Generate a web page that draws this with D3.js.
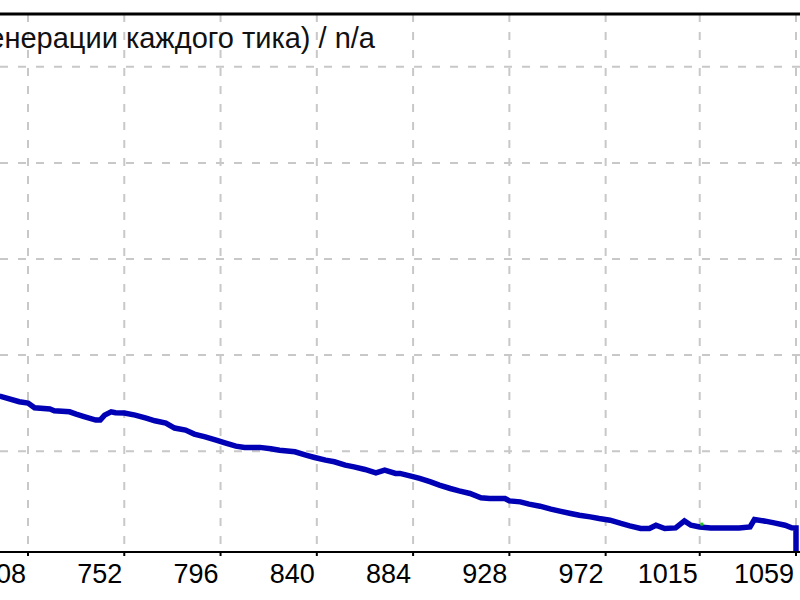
<!DOCTYPE html>
<html>
<head>
<meta charset="utf-8">
<script src="https://cdn.jsdelivr.net/npm/d3@7"></script>
<style>
  body { margin: 0; background: #fff; }
  svg { display: block; }
</style>
</head>
<body>
<svg id="chart" width="800" height="600"></svg>
<script>
// tester graph: trade number vs balance
let tickLabels = [708, 752, 796, 840, 884, 928, 972, 1015, 1059];
let gridValues = [1000, 1100, 1200, 1300, 1400];
let title = "Все тики (самый точный метод на основе всех наименьших доступных таймфреймов с генерации каждого тика) / n/a";

let trades = [695, 704, 708, 711, 718, 720, 727, 730, 734, 739, 741, 743, 746, 748, 752,
	757, 762, 766, 771, 775, 780, 784, 789, 794, 798, 803, 807, 814, 819, 823, 830,
	835, 839, 844, 848, 853, 857, 862, 867, 871, 876, 878, 883, 887, 892, 896, 901,
	905, 910, 915, 919, 926, 928, 933, 937, 942, 947, 951, 956, 960, 965, 969, 974,
	979, 983, 988, 992, 995, 999, 1004, 1008, 1011, 1015, 1020, 1024, 1033, 1038, 1040,
	1045, 1049, 1054, 1057, 1059, 1059];
let balance = [1057.3, 1051.4, 1050.0, 1045.1, 1043.8, 1042.0, 1040.9, 1038.5, 1035.7, 1032.3, 1032.3, 1037.5, 1040.9, 1039.9, 1039.6,
	1037.5, 1034.4, 1031.6, 1029.2, 1024.0, 1021.9, 1017.7, 1014.9, 1011.5, 1008.6, 1005.2, 1003.9, 1003.9, 1002.4, 1001.0, 999.3,
	995.8, 993.4, 990.6, 988.9, 985.4, 983.6, 980.9, 977.4, 980.2, 976.8, 976.8, 974.0, 971.6, 968.0, 964.6, 961.1,
	958.6, 955.9, 951.4, 950.7, 950.7, 948.2, 947.2, 944.8, 942.7, 939.6, 937.5, 935.1, 933.3, 931.6, 929.9, 928.1,
	924.7, 922.2, 919.5, 919.5, 922.9, 919.5, 920.1, 927.4, 922.9, 921.1, 920.1, 920.1, 920.1, 921.1, 928.9,
	927.1, 925.3, 922.9, 920.1, 920.0, 895.0];
let markerTrades = [1016];
let markerBalance = [924];

let svg = d3.select("#chart");
let width = 800, height = 600;
let margin = {top: 14, bottom: 48};

let x = d3.scaleLinear()
	.domain([708, 1059])
	.range([28, 796]);
let y = d3.scaleLinear()
	.domain([895, 1455])
	.range([height - margin.bottom, margin.top]);

// grid
let grid = svg.append("g")
	.attr("stroke", "#c8c8c8")
	.attr("stroke-width", 2)
	.attr("stroke-dasharray", "8,10");
grid.selectAll("line.v")
	.data(tickLabels)
	.join("line")
	.attr("class", "v")
	.attr("x1", d => x(d)).attr("x2", d => x(d))
	.attr("y1", margin.top).attr("y2", height - margin.bottom);
grid.selectAll("line.h")
	.data(gridValues)
	.join("line")
	.attr("class", "h")
	.attr("x1", 0).attr("x2", width)
	.attr("y1", d => y(d)).attr("y2", d => y(d));

// top border
svg.append("line")
	.attr("x1", 0).attr("x2", width)
	.attr("y1", margin.top).attr("y2", margin.top)
	.attr("stroke", "#000")
	.attr("stroke-width", 3);

// title
svg.append("text")
	.attr("x", 375)
	.attr("y", 48)
	.attr("text-anchor", "end")
	.attr("font-family", "Liberation Sans, Arial, sans-serif")
	.attr("font-size", 29)
	.attr("fill", "#111")
	.text(title);

// balance line
let data = trades.map((t, i) => [t, balance[i]]);
svg.append("path")
	.datum(data)
	.attr("fill", "none")
	.attr("stroke", "#0000b4")
	.attr("stroke-width", 5.5)
	.attr("stroke-linejoin", "miter")
	.attr("d", d3.line().x(d => x(d[0])).y(d => y(d[1])));

svg.append("g")
	.selectAll("rect")
	.data(markerTrades)
	.join("rect")
	.attr("x", (d, i) => x(d) - 1.5)
	.attr("y", (d, i) => y(markerBalance[i]) - 1.5)
	.attr("width", 3).attr("height", 3)
	.attr("fill", "#22c322");

// x axis
let axis = svg.append("g")
	.attr("transform", `translate(0,${height - margin.bottom})`);
axis.append("line")
	.attr("x1", 0).attr("x2", width)
	.attr("stroke", "#000")
	.attr("stroke-width", 2);
axis.selectAll("line.tick")
	.data(tickLabels)
	.join("line")
	.attr("class", "tick")
	.attr("x1", d => x(d)).attr("x2", d => x(d))
	.attr("y1", 0).attr("y2", 4)
	.attr("stroke", "#000")
	.attr("stroke-width", 2);
axis.selectAll("text")
	.data(tickLabels)
	.join("text")
	.attr("x", d => x(d) - 2)
	.attr("y", 31)
	.attr("text-anchor", "end")
	.attr("font-family", "Liberation Sans, Arial, sans-serif")
	.attr("font-size", 27)
	.attr("fill", "#000")
	.text(d => d);
</script>
</body>
</html>
